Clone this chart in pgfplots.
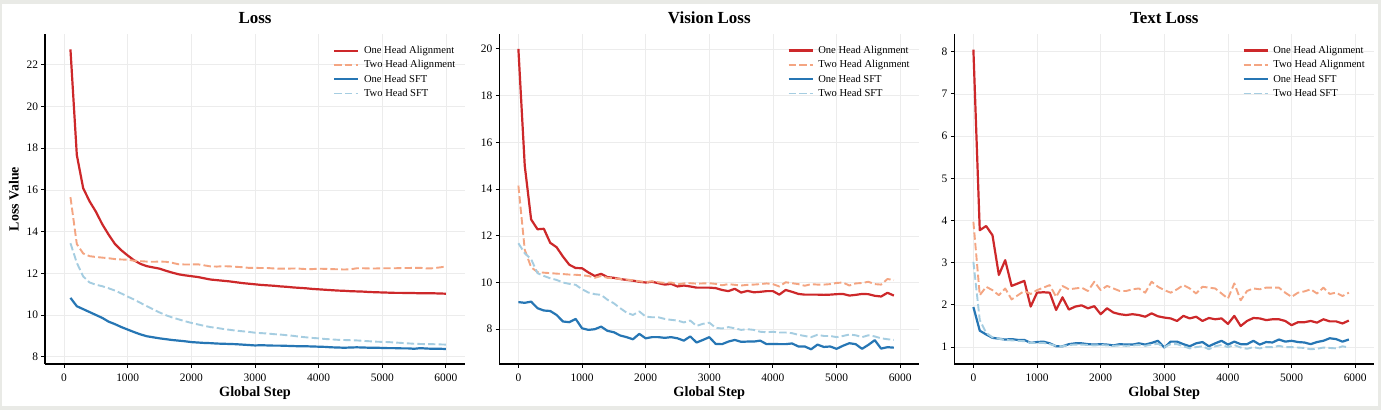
\documentclass[border=0pt]{standalone}
\usepackage{fontspec}
\setmainfont{Liberation Serif}
\usepackage{pgfplots}
\usepackage{pgfplotstable}
\pgfplotsset{compat=1.18}

\definecolor{oacol}{RGB}{205,40,42}
\definecolor{tacol}{RGB}{244,165,130}
\definecolor{oscol}{RGB}{38,118,180}
\definecolor{tscol}{RGB}{165,205,225}
\definecolor{gridc}{RGB}{236,236,236}
\definecolor{framec}{RGB}{233,234,230}

% overall loss, logged every 100 steps
\pgfplotstableread{
step oa ta os ts
100 22.73 15.65 10.82 13.44
200 17.67 13.40 10.42 12.50
300 16.08 12.95 10.28 11.85
400 15.45 12.82 10.14 11.56
500 14.95 12.78 10.00 11.45
600 14.35 12.75 9.86 11.38
700 13.85 12.72 9.68 11.28
800 13.40 12.68 9.56 11.17
900 13.10 12.66 9.42 11.03
1000 12.85 12.65 9.30 10.88
1100 12.62 12.60 9.18 10.74
1200 12.45 12.58 9.07 10.58
1300 12.34 12.56 8.98 10.42
1400 12.28 12.55 8.93 10.27
1500 12.22 12.56 8.88 10.12
1600 12.12 12.55 8.84 9.99
1700 12.03 12.50 8.80 9.88
1800 11.95 12.43 8.77 9.79
1900 11.90 12.42 8.74 9.70
2000 11.86 12.42 8.70 9.62
2100 11.82 12.43 8.68 9.55
2200 11.76 12.38 8.66 9.48
2300 11.70 12.33 8.65 9.42
2400 11.67 12.32 8.63 9.38
2500 11.64 12.34 8.62 9.33
2600 11.61 12.33 8.61 9.29
2700 11.57 12.31 8.60 9.25
2800 11.53 12.29 8.58 9.22
2900 11.50 12.26 8.56 9.19
3000 11.47 12.26 8.54 9.15
3100 11.44 12.25 8.55 9.13
3200 11.42 12.25 8.54 9.11
3300 11.40 12.23 8.53 9.08
3400 11.37 12.22 8.53 9.06
3500 11.35 12.22 8.52 9.03
3600 11.32 12.23 8.51 9.00
3700 11.30 12.22 8.50 8.96
3800 11.28 12.20 8.50 8.93
3900 11.25 12.20 8.49 8.90
4000 11.23 12.22 8.48 8.88
4100 11.21 12.21 8.47 8.85
4200 11.19 12.20 8.45 8.83
4300 11.17 12.19 8.44 8.81
4400 11.16 12.18 8.43 8.80
4500 11.14 12.19 8.44 8.79
4600 11.13 12.24 8.45 8.78
4700 11.12 12.24 8.44 8.76
4800 11.10 12.23 8.43 8.74
4900 11.09 12.23 8.43 8.72
5000 11.08 12.24 8.42 8.71
5100 11.07 12.24 8.41 8.70
5200 11.06 12.24 8.41 8.68
5300 11.06 12.25 8.40 8.66
5400 11.05 12.25 8.40 8.64
5500 11.05 12.26 8.38 8.62
5600 11.04 12.26 8.41 8.61
5700 11.04 12.23 8.39 8.60
5800 11.04 12.24 8.38 8.60
5900 11.03 12.28 8.38 8.59
6000 11.02 12.32 8.37 8.58
}\losstab

% vision loss
\pgfplotstableread{
step oa ta os ts
0 20.00 14.15 9.16 11.68
100 15.00 11.40 9.13 11.25
200 12.70 10.65 9.18 11.00
300 12.28 10.45 8.90 10.40
400 12.30 10.42 8.80 10.28
500 11.70 10.40 8.78 10.18
600 11.51 10.38 8.61 10.11
700 11.11 10.36 8.33 10.00
800 10.76 10.34 8.30 9.94
900 10.62 10.33 8.44 9.90
1000 10.61 10.31 8.04 9.71
1100 10.43 10.28 7.97 9.57
1200 10.28 10.20 8.00 9.50
1300 10.37 10.28 8.11 9.47
1400 10.23 10.20 7.93 9.26
1500 10.20 10.18 7.87 9.11
1600 10.15 10.15 7.73 8.90
1700 10.11 10.12 7.66 8.71
1800 10.08 10.10 7.57 8.61
1900 10.03 10.05 7.80 8.76
2000 10.00 10.02 7.61 8.54
2100 10.03 10.05 7.66 8.51
2200 9.97 10.01 7.66 8.51
2300 9.91 9.98 7.63 8.44
2400 9.94 10.00 7.66 8.40
2500 9.83 9.92 7.61 8.37
2600 9.87 9.96 7.51 8.29
2700 9.83 9.97 7.69 8.37
2800 9.78 9.95 7.43 8.14
2900 9.78 9.96 7.54 8.23
3000 9.78 9.97 7.66 8.28
3100 9.76 9.94 7.37 8.06
3200 9.68 9.88 7.36 8.03
3300 9.63 9.93 7.47 8.09
3400 9.73 9.90 7.54 8.04
3500 9.57 9.87 7.46 7.97
3600 9.64 9.90 7.47 8.00
3700 9.58 9.91 7.47 7.97
3800 9.60 9.93 7.51 7.89
3900 9.63 9.96 7.36 7.87
4000 9.63 9.93 7.37 7.89
4100 9.48 9.83 7.36 7.86
4200 9.68 10.01 7.36 7.86
4300 9.60 9.97 7.39 7.83
4400 9.51 9.93 7.26 7.76
4500 9.48 9.86 7.26 7.71
4600 9.48 9.93 7.14 7.66
4700 9.48 9.91 7.34 7.76
4800 9.47 9.91 7.24 7.71
4900 9.48 9.93 7.26 7.71
5000 9.50 9.98 7.16 7.66
5100 9.51 10.00 7.29 7.71
5200 9.44 9.87 7.40 7.77
5300 9.47 9.96 7.36 7.74
5400 9.51 9.98 7.16 7.66
5500 9.50 10.03 7.33 7.74
5600 9.43 9.93 7.53 7.69
5700 9.40 9.91 7.17 7.61
5800 9.56 10.15 7.23 7.57
5900 9.44 10.10 7.21 7.54
}\visiontab

% text loss
\pgfplotstableread{
step oa ta os ts
0 8.05 3.97 1.95 3.02
100 3.77 2.23 1.39 1.64
200 3.87 2.43 1.30 1.34
300 3.65 2.35 1.22 1.23
400 2.71 2.23 1.20 1.20
500 3.06 2.39 1.18 1.17
600 2.45 2.13 1.19 1.16
700 2.51 2.23 1.17 1.15
800 2.57 2.33 1.17 1.14
900 1.96 2.26 1.10 1.10
1000 2.29 2.35 1.12 1.10
1100 2.30 2.41 1.13 1.10
1200 2.29 2.47 1.09 1.07
1300 1.88 2.19 1.02 1.03
1400 2.18 2.45 1.02 1.02
1500 1.89 2.37 1.07 1.05
1600 1.96 2.39 1.09 1.06
1700 1.99 2.41 1.09 1.06
1800 1.92 2.33 1.07 1.05
1900 1.97 2.55 1.06 1.04
2000 1.78 2.35 1.07 1.05
2100 1.92 2.45 1.06 1.04
2200 1.82 2.39 1.04 1.03
2300 1.78 2.33 1.07 1.04
2400 1.76 2.33 1.06 1.03
2500 1.78 2.37 1.06 1.04
2600 1.76 2.39 1.09 1.05
2700 1.72 2.29 1.06 1.03
2800 1.80 2.55 1.10 1.06
2900 1.73 2.43 1.15 1.08
3000 1.70 2.35 0.99 1.00
3100 1.68 2.29 1.13 1.07
3200 1.62 2.37 1.13 1.07
3300 1.74 2.47 1.07 1.02
3400 1.68 2.39 1.02 0.97
3500 1.72 2.27 1.09 1.00
3600 1.62 2.43 1.12 1.02
3700 1.69 2.41 1.02 0.95
3800 1.66 2.39 1.09 1.02
3900 1.68 2.27 1.15 1.05
4000 1.55 2.15 1.06 1.00
4100 1.74 2.51 1.13 1.05
4200 1.50 2.11 1.07 0.99
4300 1.62 2.33 1.07 0.96
4400 1.69 2.39 1.15 1.00
4500 1.68 2.37 1.06 0.97
4600 1.64 2.41 1.12 1.00
4700 1.66 2.41 1.11 1.00
4800 1.66 2.41 1.18 1.03
4900 1.62 2.29 1.13 1.00
5000 1.52 2.19 1.15 1.00
5100 1.59 2.29 1.12 0.99
5200 1.59 2.32 1.11 0.98
5300 1.62 2.37 1.07 0.95
5400 1.58 2.27 1.12 0.96
5500 1.66 2.41 1.15 0.99
5600 1.61 2.26 1.21 0.98
5700 1.61 2.29 1.19 0.97
5800 1.56 2.21 1.13 1.02
5900 1.63 2.29 1.18 0.99
}\texttab

\pgfplotsset{
  panel/.style={
    scale only axis, width=420bp, height=330bp, anchor=south west,
    axis x line*=bottom, axis y line*=left,
    axis line style={line width=1.1bp, black, -},
    tick align=outside, major tick length=3.5bp,
    tick style={line width=0.9bp, black},
    grid=major, grid style={line width=0.5bp, gridc},
    xmin=-300, xmax=6300, xtick={0,1000,...,6000},
    tick label style={font=\fontsize{11.5}{13}\selectfont},
    xticklabel style={yshift=-2.5bp},
    /pgf/number format/assume math mode=true,
    /pgf/number format/1000 sep={},
    scaled ticks=false,
    title style={font=\bfseries\fontsize{17}{20}\selectfont,
      at={(axis description cs:0.5,1)}, anchor=base, yshift=4.7bp},
    xlabel={Global Step},
    xlabel style={font=\bfseries\fontsize{14.3}{16}\selectfont,
      at={(axis description cs:0.5,0)}, anchor=base, yshift=-32.5bp},
    legend cell align=left,
    legend style={draw=none, fill=none, font=\fontsize{10.6}{12}\selectfont,
      at={(axis description cs:0.686,1)}, anchor=north west, yshift=-10bp,
      inner sep=0pt, row sep=1.5bp,
      /tikz/every odd column/.append style={column sep=2.5bp}},
    legend image code/.code={\draw[##1] (0bp,0bp) -- (24bp,0bp);},
  },
  oa/.style={oacol, line width=2.2bp, line join=round},
  ta/.style={tacol, line width=1.9bp, dash pattern=on 7.4bp off 3.2bp, line join=round},
  os/.style={oscol, line width=2.2bp, line join=round},
  ts/.style={tscol, line width=1.9bp, dash pattern=on 7.4bp off 3.2bp, line join=round},
}

\begin{document}
\begin{tikzpicture}
\fill[framec] (0bp,0bp) rectangle (1381bp,410bp);
\fill[white] (2bp,3.5bp) rectangle (1378bp,406bp);

\begin{axis}[panel, at={(45bp,46bp)},
  title={Loss}, ylabel={Loss Value},
  ylabel style={font=\bfseries\fontsize{14}{16}\selectfont,
    at={(axis description cs:0,0.5)}, anchor=base, yshift=26.3bp},
  ymin=7.65, ymax=23.47, ytick={8,10,...,22}]
\addplot[oa] table[x=step, y=oa] {\losstab};
\addplot[ta] table[x=step, y=ta] {\losstab};
\addplot[os] table[x=step, y=os] {\losstab};
\addplot[ts] table[x=step, y=ts] {\losstab};
\legend{One Head Alignment, Two Head Alignment, One Head SFT, Two Head SFT}
\end{axis}

\begin{axis}[panel, at={(499.3bp,46bp)},
  title={Vision Loss},
  ymin=6.51, ymax=20.64, ytick={8,10,...,20}]
\addplot[oa] table[x=step, y=oa] {\visiontab};
\addplot[ta] table[x=step, y=ta] {\visiontab};
\addplot[os] table[x=step, y=os] {\visiontab};
\addplot[ts] table[x=step, y=ts] {\visiontab};
\legend{One Head Alignment, Two Head Alignment, One Head SFT, Two Head SFT}
\end{axis}

\begin{axis}[panel, at={(954.3bp,46bp)},
  title={Text Loss},
  ymin=0.6, ymax=8.42, ytick={1,2,...,8}]
\addplot[oa] table[x=step, y=oa] {\texttab};
\addplot[ta] table[x=step, y=ta] {\texttab};
\addplot[os] table[x=step, y=os] {\texttab};
\addplot[ts] table[x=step, y=ts] {\texttab};
\legend{One Head Alignment, Two Head Alignment, One Head SFT, Two Head SFT}
\end{axis}
\end{tikzpicture}
\end{document}
